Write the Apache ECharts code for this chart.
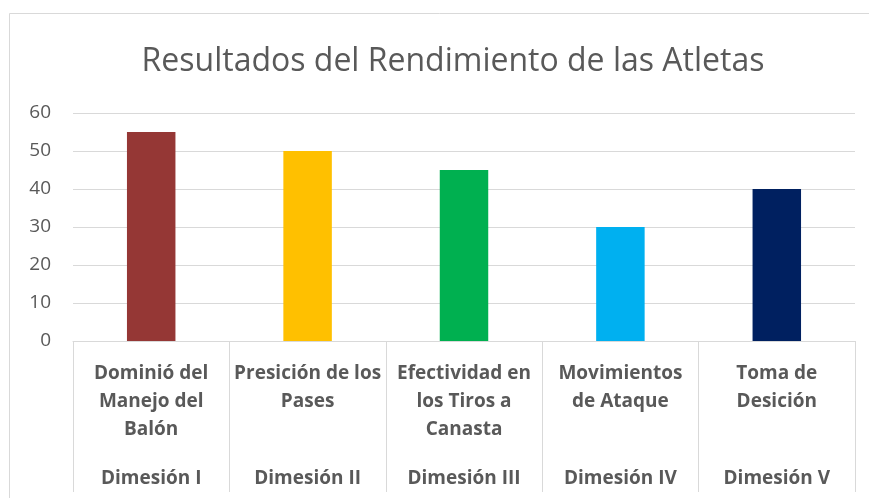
<!DOCTYPE html>
<html>
<head>
<meta charset="utf-8">
<script src="https://cdn.jsdelivr.net/npm/echarts@6/dist/echarts.min.js"></script>
<style>html,body{margin:0;padding:0;background:#fff}#c{width:869px;height:498px}</style>
</head>
<body>
<div id="c"></div>
<script>
const title = 'Resultados del Rendimiento de las Atletas';
const categories = ['Dominió del\nManejo del\nBalón', 'Presición de los\nPases', 'Efectividad en\nlos Tiros a\nCanasta', 'Movimientos\nde Ataque', 'Toma de\nDesición'];
const dimensions = ['Dimesión I', 'Dimesión II', 'Dimesión III', 'Dimesión IV', 'Dimesión V'];
const values = [55, 50, 45, 30, 40];
const colors = ['#953735', '#FFC000', '#00B050', '#00B0F0', '#002060'];
const yTicks = {min: 0, max: 60, interval: 10};

const chart = echarts.init(document.getElementById('c'), null, {renderer: 'canvas'});
const font = 'Open Sans, Lato, sans-serif';
chart.setOption({
  animation: false,
  backgroundColor: '#fff',
  graphic: [{
    type: 'rect', left: 9, top: 13, z: -1,
    shape: {width: 900, height: 600},
    style: {fill: '#fff', stroke: '#d9d9d9', lineWidth: 1}
  }],
  title: {
    text: title, left: 448, top: 41, textAlign: 'center',
    textStyle: {fontFamily: font, fontSize: 32, fontWeight: 'normal', color: '#595959'}
  },
  grid: {left: 73, right: 14, top: 113, bottom: 157, containLabel: false},
  xAxis: [{
    type: 'category', data: categories, position: 'bottom',
    axisLine: {show: true, lineStyle: {color: '#d9d9d9', width: 1}},
    axisTick: {show: true, interval: 0, length: 151, lineStyle: {color: '#d9d9d9', width: 1}},
    axisLabel: {interval: 0, margin: 19, fontFamily: font, fontSize: 19, fontWeight: 'bold', color: '#595959', lineHeight: 28, align: 'center', verticalAlign: 'top'}
  }, {
    type: 'category', data: dimensions, position: 'bottom',
    axisLine: {show: false}, axisTick: {show: false},
    axisLabel: {interval: 0, margin: 124, fontFamily: font, fontSize: 19, fontWeight: 'bold', color: '#595959', lineHeight: 28, verticalAlign: 'top'}
  }],
  yAxis: {
    type: 'value', min: yTicks.min, max: yTicks.max, interval: yTicks.interval,
    axisLine: {show: false}, axisTick: {show: false},
    splitLine: {lineStyle: {color: '#d9d9d9', width: 1}},
    axisLabel: {margin: 22, fontFamily: font, fontSize: 19, color: '#595959'}
  },
  series: [{
    type: 'bar', xAxisIndex: 0, barWidth: '31%',
    data: values.map((v, i) => ({value: v, itemStyle: {color: colors[i]}}))
  }]
});
</script>
</body>
</html>
